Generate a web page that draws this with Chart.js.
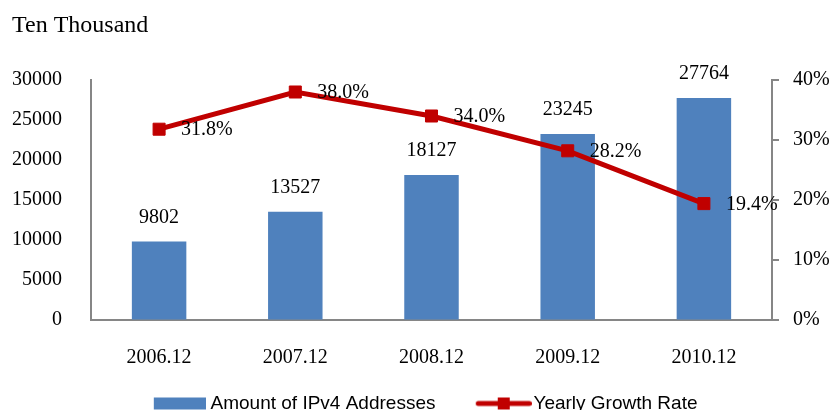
<!DOCTYPE html>
<html>
<head>
<meta charset="utf-8">
<script src="https://cdn.jsdelivr.net/npm/chart.js@4/dist/chart.umd.min.js"></script>
<style>
  html, body { margin: 0; padding: 0; background: #fff; overflow: hidden; }
  #wrap { position: relative; width: 832px; height: 423px; }
</style>
</head>
<body>
<div id="wrap"><canvas id="ipv4Chart"></canvas></div>
<script>
// values
const periods = ['2006.12', '2007.12', '2008.12', '2009.12', '2010.12'];
const ipv4Amounts = [9802, 13527, 18127, 23245, 27764];
const growthRates = [31.8, 38.0, 34.0, 28.2, 19.4];
const leftTicks = [0, 5000, 10000, 15000, 20000, 25000, 30000];
const rightTicks = [0, 10, 20, 30, 40];

const barColor = '#4F81BD';
const lineColor = '#C00000';
const axisColor = '#868686';

Chart.defaults.font.family = "'Liberation Serif', 'Times New Roman', serif";
Chart.defaults.font.size = 20;
Chart.defaults.color = '#000';

// little pictures for the legend (bar box, line with square marker),
// drawn right-justified so the gap to the text stays small
function legendSwatch(kind) {
    const c = document.createElement('canvas');
    c.height = 14;
    const g = c.getContext('2d');
    if (kind === 'bar') {
        c.width = 88;
        g.fillStyle = barColor;
        g.fillRect(36, 1, 52, 12);
    } else {
        c.width = 94;
        g.strokeStyle = lineColor;
        g.lineWidth = 5;
        g.lineCap = 'round';
        g.beginPath();
        g.moveTo(40.5, 7);
        g.lineTo(91.5, 7);
        g.stroke();
        g.fillStyle = lineColor;
        g.fillRect(60, 1, 12, 12);
    }
    return c;
}

// value labels above bars and right of the line points
const valueLabels = {
    id: 'valueLabels',
    afterLayout(chart) {
        // nudge the centred legend a bit to the left, like the original
        chart.legend.left -= 11;
        chart.legend.right -= 11;
    },
    afterDatasetsDraw(chart) {
        const ctx = chart.ctx;
        ctx.save();
        ctx.font = "20px 'Liberation Serif', serif";
        ctx.fillStyle = '#000';
        ctx.textBaseline = 'middle';

        chart.getDatasetMeta(0).data.forEach((bar, i) => {
            ctx.textAlign = 'center';
            ctx.fillText(String(ipv4Amounts[i]), bar.x, bar.y - 24);
        });
        chart.getDatasetMeta(1).data.forEach((pt, i) => {
            ctx.textAlign = 'left';
            ctx.fillText(growthRates[i].toFixed(1) + '%', pt.x + 22, pt.y + 1);
        });
        ctx.restore();
    }
};

const ctx = document.getElementById('ipv4Chart').getContext('2d');
new Chart(ctx, {
    type: 'bar',
    data: {
        labels: periods,
        datasets: [{
            label: 'Amount of IPv4 Addresses',
            data: ipv4Amounts,
            backgroundColor: barColor,
            borderWidth: 0,
            barPercentage: 0.4,
            categoryPercentage: 1,
            yAxisID: 'y',
            order: 1
        }, {
            type: 'line',
            label: 'Yearly Growth Rate',
            data: growthRates,
            borderColor: lineColor,
            backgroundColor: lineColor,
            borderWidth: 5,
            pointStyle: 'rect',
            pointRadius: 8.5,
            pointBorderWidth: 1,
            pointBackgroundColor: lineColor,
            pointBorderColor: lineColor,
            fill: false,
            tension: 0,
            yAxisID: 'y1',
            order: 0
        }]
    },
    options: {
        responsive: true,
        maintainAspectRatio: false,
        animation: false,
        layout: {
            padding: { left: 12, right: 2, top: 0, bottom: 0 }
        },
        plugins: {
            tooltip: { enabled: false },
            title: {
                display: true,
                text: 'Ten Thousand',
                align: 'start',
                color: '#000',
                font: { size: 24, weight: 'normal' },
                padding: { top: 11, bottom: 40.2 }
            },
            legend: {
                position: 'bottom',
                labels: {
                    usePointStyle: true,
                    pointStyleWidth: 78.5,
                    padding: 10,
                    color: '#000',
                    font: { family: "'Liberation Sans Narrow', 'Liberation Sans', sans-serif", size: 19 },
                    generateLabels: () => [
                        { text: 'Amount of IPv4 Addresses', pointStyle: legendSwatch('bar'), fillStyle: barColor, strokeStyle: barColor, lineWidth: 0, datasetIndex: 0, hidden: false },
                        { text: 'Yearly Growth Rate', pointStyle: legendSwatch('line'), fillStyle: lineColor, strokeStyle: lineColor, lineWidth: 0, datasetIndex: 1, hidden: false }
                    ]
                }
            }
        },
        scales: {
            x: {
                grid: { display: false, drawTicks: false },
                border: { display: true, color: axisColor, width: 2 },
                ticks: { padding: 26 },
                afterFit(scale) { scale.height = 64; }
            },
            y: {
                position: 'left',
                min: 0,
                max: 30000,
                afterBuildTicks(scale) { scale.ticks = leftTicks.map(v => ({ value: v })); },
                grid: { drawOnChartArea: false, drawTicks: false },
                border: { display: true, color: axisColor, width: 2 },
                ticks: { padding: 29, callback: v => String(v) },
                afterFit(scale) { scale.width = 79; }
            },
            y1: {
                position: 'right',
                min: 0,
                max: 40,
                afterBuildTicks(scale) { scale.ticks = rightTicks.map(v => ({ value: v })); },
                grid: { drawOnChartArea: false, drawTicks: true, tickLength: 7, color: axisColor, lineWidth: 2 },
                border: { display: true, color: axisColor, width: 2 },
                ticks: { padding: 14, callback: v => v + '%' },
                afterFit(scale) { scale.width = 58; }
            }
        }
    },
    plugins: [valueLabels]
});
</script>
</body>
</html>
